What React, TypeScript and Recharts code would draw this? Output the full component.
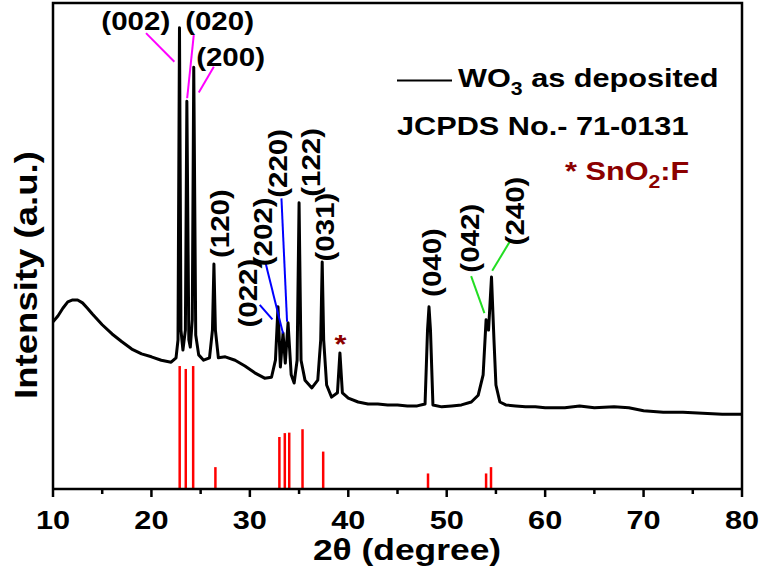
import React from 'react';
import {
  ComposedChart,
  Line,
  XAxis,
  YAxis,
  ReferenceLine,
  ReferenceDot,
} from 'recharts';

// measured XRD pattern (2θ in degrees, intensity in arbitrary units)
const xrdAngles = [
  10, 10.5, 11, 11.5, 12, 12.5, 13, 13.5, 14, 15, 16, 17, 18, 19, 20, 21, 22,
  22.5, 22.7, 22.85, 23.0, 23.2, 23.45, 23.6, 23.8, 23.95, 24.15, 24.3, 24.5, 24.8,
  25.3, 25.9, 26.2, 26.35, 26.5, 26.8, 27.5, 28.5, 29.5, 30.5, 31.5, 32.2, 32.6,
  32.86, 33.1, 33.37, 33.6, 33.88, 34.2, 34.5, 34.8, 35.0, 35.2, 35.6,
  36.3, 36.9, 37.2, 37.35, 37.5, 37.8, 38.3, 38.9, 39.15, 39.4,
  40, 41, 42, 43, 44, 45, 46, 47, 47.8, 48.05, 48.2, 48.35, 48.6,
  49.5, 50.5, 51.5, 52.5, 53.2, 53.7, 54.0, 54.25, 54.55, 54.8, 55.0, 55.4,
  56, 57, 58, 59, 60, 62, 63.5, 65, 67, 68.5, 70, 72, 74, 76, 78, 80,
];
const xrdCounts = [
  344, 356, 372, 385, 389, 389, 383, 372, 360, 338, 319, 303, 288, 278, 272, 265, 261,
  270, 307, 949, 327, 286, 327, 798, 307, 292, 348, 868, 317, 276,
  265, 270, 327, 463, 327, 270, 272, 265, 253, 239, 228, 230, 265,
  375, 251, 321, 259, 342, 235, 218, 265, 589, 265, 224,
  208, 224, 307, 467, 307, 214, 189, 198, 280, 198,
  187, 179, 175, 175, 173, 173, 171, 171, 175, 327, 375, 327, 173,
  169, 171, 173, 179, 193, 235, 348, 327, 436, 307, 214, 179,
  173, 171, 169, 169, 167, 167, 171, 167, 169, 167, 161, 158, 158, 156, 154, 154,
];

// JCPDS 71-0131 reference lines
const refAngles = [22.87, 23.49, 24.24, 26.5, 33.0, 33.55, 34.0, 35.35, 37.45, 48.1, 54.0, 54.5];
const refHeights = [253, 247, 253, 45, 107, 115, 116, 123, 77, 32, 32, 45];

const xTicks = [10, 15, 20, 25, 30, 35, 40, 45, 50, 55, 60, 65, 70, 75, 80];

// (hkl) labels: text, centre (2θ, intensity), rotation
const hklText = ['(002)', '(020)', '(200)', '(120)', '(022)', '(202)', '(220)', '(122)', '(031)', '(040)', '(042)', '(240)'];
const hklX = [18.41, 26.92, 28.04, 26.97, 29.83, 31.36, 32.89, 36.2, 37.62, 48.58, 52.41, 56.99];
const hklY = [963, 963, 889, 546, 403, 529, 670, 672, 539, 466, 516, 572];
const hklRot = [0, 0, 0, -90, -90, -90, -90, -90, -90, -90, -90, -90];

// leader lines from labels to peaks
const leaderColor = ['#ff00ff', '#ff00ff', '#ff00ff', '#0000ff', '#0000ff', '#0000ff', '#22dd22', '#22dd22'];
const leaderFrom = [[19.45, 938], [24.3, 934], [26.34, 869], [31.0, 379], [31.61, 464], [33.21, 598], [52.48, 438], [56.41, 509]];
const leaderTo = [[22.33, 879], [23.63, 804], [24.81, 816], [32.29, 349], [33.37, 320], [33.78, 344], [53.83, 362], [54.62, 449]];

// SnO2:F substrate peak marker
const fto = { x: 39.2, y: 280 };

const data = xrdAngles.map((x, i) => ({ x, v: xrdCounts[i] }));

const FONT = "'Liberation Sans', Arial, Helvetica, sans-serif";
const STRETCH = 1.18;
const DARK_RED = '#8b0000';

const Txt = ({ x, y, size, fill = '#000', rot = 0, anchor = 'middle', baseline, children }: any) => (
  <text
    transform={`translate(${x},${y}) rotate(${rot}) scale(${STRETCH},1)`}
    textAnchor={anchor}
    dominantBaseline={baseline}
    fontFamily={FONT}
    fontWeight="bold"
    fontSize={size}
    fill={fill}
  >
    {children}
  </text>
);

const XTick = (props: any) => {
  const { x, y, payload } = props;
  const major = payload.value % 10 === 0;
  return (
    <g>
      <line x1={x} y1={y} x2={x} y2={y + (major ? 8 : 5)} stroke="#000" strokeWidth={2.5} />
      {major && (
        <Txt x={x} y={y + 40} size={26}>
          {payload.value}
        </Txt>
      )}
    </g>
  );
};

const App = () => {
  const W = 759;
  const H = 577;
  const m = { top: 3, right: 17, bottom: 0, left: 53 };
  const axisH = 88;
  const left = m.left;
  const right = W - m.right;
  const top = m.top;
  const bottom = H - axisH;
  return (
    <div style={{ position: 'absolute', left: 0, top: 0, width: W, height: H, background: '#fff' }}>
      <ComposedChart width={W} height={H} margin={m}>
        <XAxis
          dataKey="x"
          type="number"
          domain={[10, 80]}
          ticks={xTicks}
          interval={0}
          allowDataOverflow
          height={axisH}
          tickSize={0}
          tickMargin={0}
          tickLine={false}
          tick={<XTick />}
          axisLine={{ stroke: '#000', strokeWidth: 2.5 }}
        />
        <YAxis type="number" domain={[0, 1000]} allowDataOverflow width={0} hide />

        {refAngles.map((a, i) => (
          <ReferenceLine
            key={`ref-${i}`}
            segment={[{ x: a, y: 0 }, { x: a, y: refHeights[i] }]}
            stroke="#ff0000"
            strokeWidth={2.5}
          />
        ))}

        <Line
          data={data}
          dataKey="v"
          type="linear"
          dot={false}
          stroke="#000"
          strokeWidth={3}
          strokeLinejoin="round"
          isAnimationActive={false}
        />

        {leaderFrom.map((p, i) => (
          <ReferenceLine
            key={`lead-${i}`}
            segment={[{ x: p[0], y: p[1] }, { x: leaderTo[i][0], y: leaderTo[i][1] }]}
            stroke={leaderColor[i]}
            strokeWidth={2}
          />
        ))}

        {hklText.map((t, i) => (
          <ReferenceDot
            key={`hkl-${i}`}
            x={hklX[i]}
            y={hklY[i]}
            r={0}
            shape={(p: any) => (
              <Txt x={p.cx} y={p.cy} size={25} rot={hklRot[i]} baseline="central">
                {t}
              </Txt>
            )}
          />
        ))}

        <ReferenceDot
          x={fto.x}
          y={fto.y}
          r={0}
          shape={(p: any) => (
            <Txt x={p.cx} y={p.cy} size={26} fill={DARK_RED}>
              *
            </Txt>
          )}
        />
      </ComposedChart>

      <svg
        width={W}
        height={H}
        style={{ position: 'absolute', left: 0, top: 0, pointerEvents: 'none' }}
      >
        {/* plot frame: left, top, right */}
        <path
          d={`M${left},${bottom} L${left},${top} L${right},${top} L${right},${bottom}`}
          fill="none"
          stroke="#000"
          strokeWidth={2.5}
        />

        <line x1={397} y1={80.5} x2={452} y2={80.5} stroke="#000" strokeWidth={2} />
        <Txt x={458} y={87} size={26} anchor="start">
          WO
          <tspan fontSize={18} dy={8}>3</tspan>
          <tspan dy={-8}> as deposited</tspan>
        </Txt>
        <Txt x={397} y={135} size={26} anchor="start">
          JCPDS No.- 71-0131
        </Txt>
        <Txt x={565} y={180} size={26} anchor="start" fill={DARK_RED}>
          * SnO
          <tspan fontSize={18} dy={8}>2</tspan>
          <tspan dy={-8}>:F</tspan>
        </Txt>

        <Txt x={37} y={275} size={31} rot={-90}>
          Intensity (a.u.)
        </Txt>
        <Txt x={407} y={560} size={30}>
          2θ (degree)
        </Txt>
      </svg>
    </div>
  );
};

export default App;
